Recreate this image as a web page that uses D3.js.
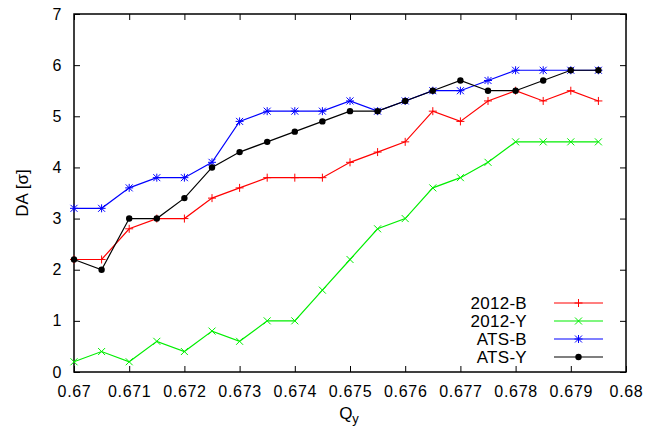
<!DOCTYPE html>
<html>
<head>
<meta charset="utf-8">
<script src="https://cdn.jsdelivr.net/npm/d3@7"></script>
<style>
  body { margin: 0; background: #fff; }
  svg { display: block; font-family: "Liberation Sans", Arial, sans-serif; }
</style>
</head>
<body>
<svg id="chart" width="647" height="433"></svg>
<script>
// Tune values Q_y
const qy = [0.67, 0.6705, 0.671, 0.6715, 0.672, 0.6725, 0.673, 0.6735, 0.674, 0.6745,
            0.675, 0.6755, 0.676, 0.6765, 0.677, 0.6775, 0.678, 0.6785, 0.679, 0.6795];

// Dynamic aperture (sigma) per configuration
const da2012B = [2.2, 2.2, 2.8, 3.0, 3.0, 3.4, 3.6, 3.8, 3.8, 3.8, 4.1, 4.3, 4.5, 5.1, 4.9, 5.3, 5.5, 5.3, 5.5, 5.3];
const da2012Y = [0.2, 0.4, 0.2, 0.6, 0.4, 0.8, 0.6, 1.0, 1.0, 1.6, 2.2, 2.8, 3.0, 3.6, 3.8, 4.1, 4.5, 4.5, 4.5, 4.5];
const daATSB  = [3.2, 3.2, 3.6, 3.8, 3.8, 4.1, 4.9, 5.1, 5.1, 5.1, 5.3, 5.1, 5.3, 5.5, 5.5, 5.7, 5.9, 5.9, 5.9, 5.9];
const daATSY  = [2.2, 2.0, 3.0, 3.0, 3.4, 4.0, 4.3, 4.5, 4.7, 4.9, 5.1, 5.1, 5.3, 5.5, 5.7, 5.5, 5.5, 5.7, 5.9, 5.9];

const seriesNames = ["2012-B", "2012-Y", "ATS-B", "ATS-Y"];
const seriesColors = ["#ff0000", "#00ee00", "#0000ff", "#000000"];
const seriesMarkers = ["plus", "cross", "star", "circle"];
const seriesValues = [da2012B, da2012Y, daATSB, daATSY];

const xTicks = [0.67, 0.671, 0.672, 0.673, 0.674, 0.675, 0.676, 0.677, 0.678, 0.679, 0.68];
const yTicks = [0, 1, 2, 3, 4, 5, 6, 7];

const svg = d3.select("#chart");
const m = { left: 74, right: 21, top: 14, bottom: 61 };
const W = 647, H = 433;

const x = d3.scaleLinear().domain([0.67, 0.68]).range([m.left, W - m.right]);
const y = d3.scaleLinear().domain([0, 7]).range([H - m.bottom, m.top]);

const fmtX = d => d3.format(".3~f")(d);

// Axes: ticks point inward, mirrored on top/right
const tickLen = 6;
const gAx = svg.append("g");

gAx.append("g")
  .attr("transform", `translate(0,${y(0)})`)
  .call(d3.axisBottom(x).tickValues(xTicks).tickFormat(fmtX).tickSizeInner(-tickLen).tickSizeOuter(0).tickPadding(14))
  .call(g => g.select(".domain").remove());
gAx.append("g")
  .attr("transform", `translate(0,${y(7)})`)
  .call(d3.axisTop(x).tickValues(xTicks).tickFormat("").tickSizeInner(-tickLen).tickSizeOuter(0))
  .call(g => g.select(".domain").remove());
gAx.append("g")
  .attr("transform", `translate(${x(0.67)},0)`)
  .call(d3.axisLeft(y).tickValues(yTicks).tickFormat(d3.format("d")).tickSizeInner(-tickLen).tickSizeOuter(0).tickPadding(12))
  .call(g => g.select(".domain").remove());
gAx.append("g")
  .attr("transform", `translate(${x(0.68)},0)`)
  .call(d3.axisRight(y).tickValues(yTicks).tickFormat("").tickSizeInner(-tickLen).tickSizeOuter(0))
  .call(g => g.select(".domain").remove());

gAx.selectAll(".tick text")
  .attr("font-size", 16)
  .attr("letter-spacing", "0.7px")
  .attr("font-family", "Liberation Sans, Arial, sans-serif")
  .attr("fill", "#000");
gAx.selectAll(".tick line").attr("stroke", "#000").attr("stroke-width", 1);

// Frame
svg.append("rect")
  .attr("x", x(0.67)).attr("y", y(7))
  .attr("width", x(0.68) - x(0.67)).attr("height", y(0) - y(7))
  .attr("fill", "none").attr("stroke", "#000").attr("stroke-width", 1.5);

// Axis titles
svg.append("text")
  .attr("x", (x(0.67) + x(0.68)) / 2 - 1).attr("y", 419)
  .attr("text-anchor", "middle").attr("font-size", 17)
  .html('Q<tspan dy="4" font-size="13">y</tspan>');
svg.append("text")
  .attr("transform", `translate(28,${(y(0) + y(7)) / 2}) rotate(-90)`)
  .attr("text-anchor", "middle").attr("font-size", 17)
  .text("DA [σ]");

// Point symbols
function drawMarker(g, type, cx, cy, color) {
  const s = 4;
  if (type === "plus" || type === "star") {
    g.append("path").attr("d", `M${cx - s},${cy}H${cx + s}M${cx},${cy - s}V${cy + s}`)
      .attr("stroke", color).attr("stroke-width", 1).attr("fill", "none");
  }
  if (type === "cross" || type === "star") {
    const t = 3.5;
    g.append("path").attr("d", `M${cx - t},${cy - t}L${cx + t},${cy + t}M${cx - t},${cy + t}L${cx + t},${cy - t}`)
      .attr("stroke", color).attr("stroke-width", 1).attr("fill", "none");
  }
  if (type === "circle") {
    g.append("circle").attr("cx", cx).attr("cy", cy).attr("r", 3.2).attr("fill", color);
  }
}

const line = d3.line().x(d => x(d[0])).y(d => y(d[1]));

seriesValues.forEach((vals, i) => {
  const pts = qy.map((q, j) => [q, vals[j]]);
  const g = svg.append("g");
  g.append("path").datum(pts).attr("d", line)
    .attr("fill", "none").attr("stroke", seriesColors[i]).attr("stroke-width", 1.2);
  pts.forEach(p => drawMarker(g, seriesMarkers[i], x(p[0]), y(p[1]), seriesColors[i]));
});

// Legend
const legend = svg.append("g");
seriesNames.forEach((name, i) => {
  const ly = 303 + i * 18;
  legend.append("text").attr("x", 527).attr("y", ly).attr("dy", "0.35em")
    .attr("text-anchor", "end").attr("font-size", 17).attr("letter-spacing", "0.3px").text(name);
  legend.append("line").attr("x1", 554).attr("x2", 603).attr("y1", ly).attr("y2", ly)
    .attr("stroke", seriesColors[i]).attr("stroke-width", 1.2);
  drawMarker(legend, seriesMarkers[i], 578.5, ly, seriesColors[i]);
});
</script>
</body>
</html>
